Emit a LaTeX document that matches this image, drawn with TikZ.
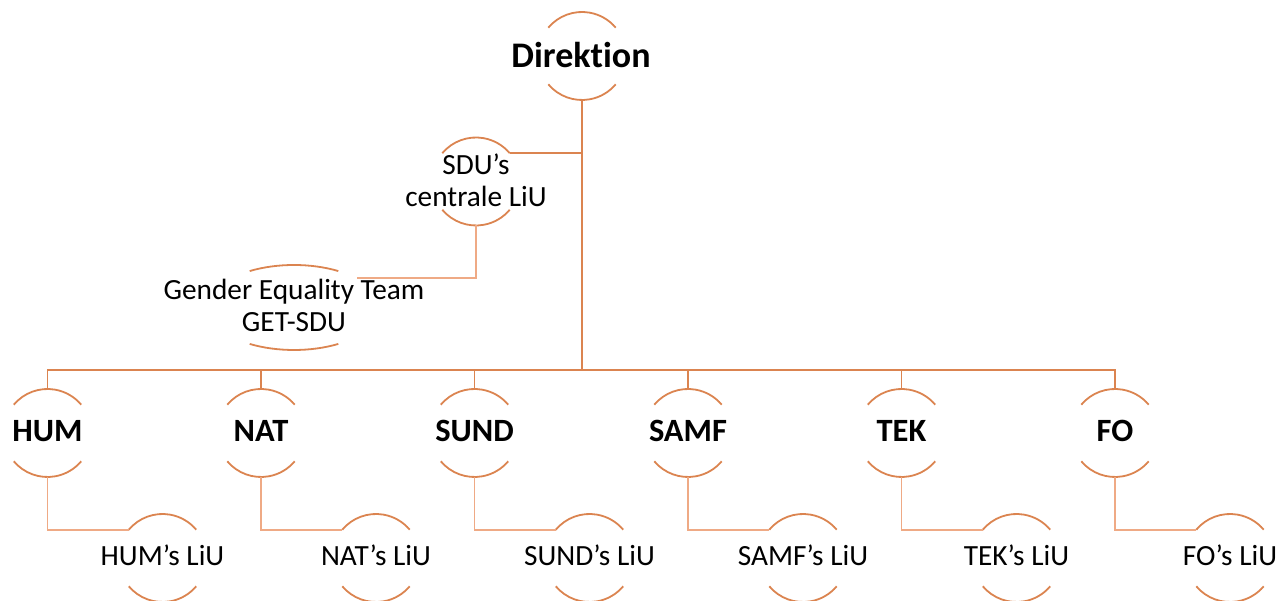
\documentclass[tikz,border=0pt]{standalone}
\usepackage{fontspec}
\setmainfont{Carlito}[Ligatures=NoCommon]
\usetikzlibrary{shapes.geometric,calc}
\definecolor{mainor}{HTML}{DB8450}
\definecolor{lightor}{HTML}{EFAA85}
\tikzset{
  ring/.style={circle, minimum size=88pt, inner sep=0pt, outer sep=0pt},
  oval/.style={ellipse, minimum width=172pt, minimum height=85pt, inner sep=0pt, outer sep=0pt},
  arcline/.style={draw=mainor, line width=1.8pt},
  conn/.style={draw=mainor, line width=1.8pt},
  subconn/.style={draw=lightor, line width=1.8pt},
  boldtxt/.style={font=\fontsize{32.5}{38}\selectfont\bfseries, anchor=base, inner sep=0pt},
  toptxt/.style={font=\fontsize{36}{40}\selectfont\bfseries, anchor=base, inner sep=0pt},
  regtxt/.style={font=\fontsize{29.3}{32}\selectfont, anchor=base, inner sep=0pt, align=center},
}
% name, x radius, y radius, a1, a2, a3, a4
\newcommand\ringarcs[7]{%
  \draw[arcline] ($(#1.center)+(#4:#2 and #3)$) arc[start angle=#4, end angle=#5, x radius=#2, y radius=#3];
  \draw[arcline] ($(#1.center)+(#6:#2 and #3)$) arc[start angle=#6, end angle=#7, x radius=#2, y radius=#3];
}
\begin{document}
\begin{tikzpicture}[x=1pt,y=1pt]
\useasboundingbox (0,0) rectangle (1280,601);
\clip (0,0) rectangle (1280,601);

% top
\node[ring] (dir) at (582,545) {};
\node[toptxt] at (581,533.7) {Direktion};
\ringarcs{dir}{44pt}{44pt}{140}{40}{220}{320}

\node[ring] (sdu) at (476,419.5) {};
\node[regtxt] at (476,394) {SDU’s\\centrale LiU};
\ringarcs{sdu}{44pt}{44pt}{140}{40}{220}{320}

\node[oval] (get) at (294,293.5) {};
\node[regtxt] at (294,269) {Gender Equality Team\\GET-SDU};
\ringarcs{get}{86pt}{42.5pt}{121}{59}{239}{301}

% faculties
\foreach \nm/\lb/\xx in {hum/HUM/47.5, nat/NAT/261, sund/SUND/474.5, samf/SAMF/688, tek/TEK/901.5, fo/FO/1115}{
  \node[ring] (\nm) at (\xx,168) {};
  \node[boldtxt] at (\xx,159.3) {\lb};
  \ringarcs{\nm}{44pt}{44pt}{140}{40}{220}{320}
  \node[ring] (\nm L) at (\xx+115,43) {};
  \node[regtxt] at (\xx+115,35) {\lb’s LiU};
  \ringarcs{\nm L}{44pt}{44pt}{140}{40}{220}{320}
  \draw[subconn] (\nm.south) |- (\nm L.140);
}

\coordinate (bus) at ($(hum.north)+(0,19)$);
\draw[conn] (dir.south) -- (dir.south |- bus);
\draw[conn] (hum.north) -- (hum.north |- bus) -| (fo.north);
\foreach \nm in {nat,sund,samf,tek}{
  \draw[conn] (\nm.north) -- (\nm.north |- bus);
}
\draw[conn] (sdu.40) -- (sdu.40 -| dir.south);
\draw[subconn] (sdu.south) |- (get.25.4);
\end{tikzpicture}
\end{document}
